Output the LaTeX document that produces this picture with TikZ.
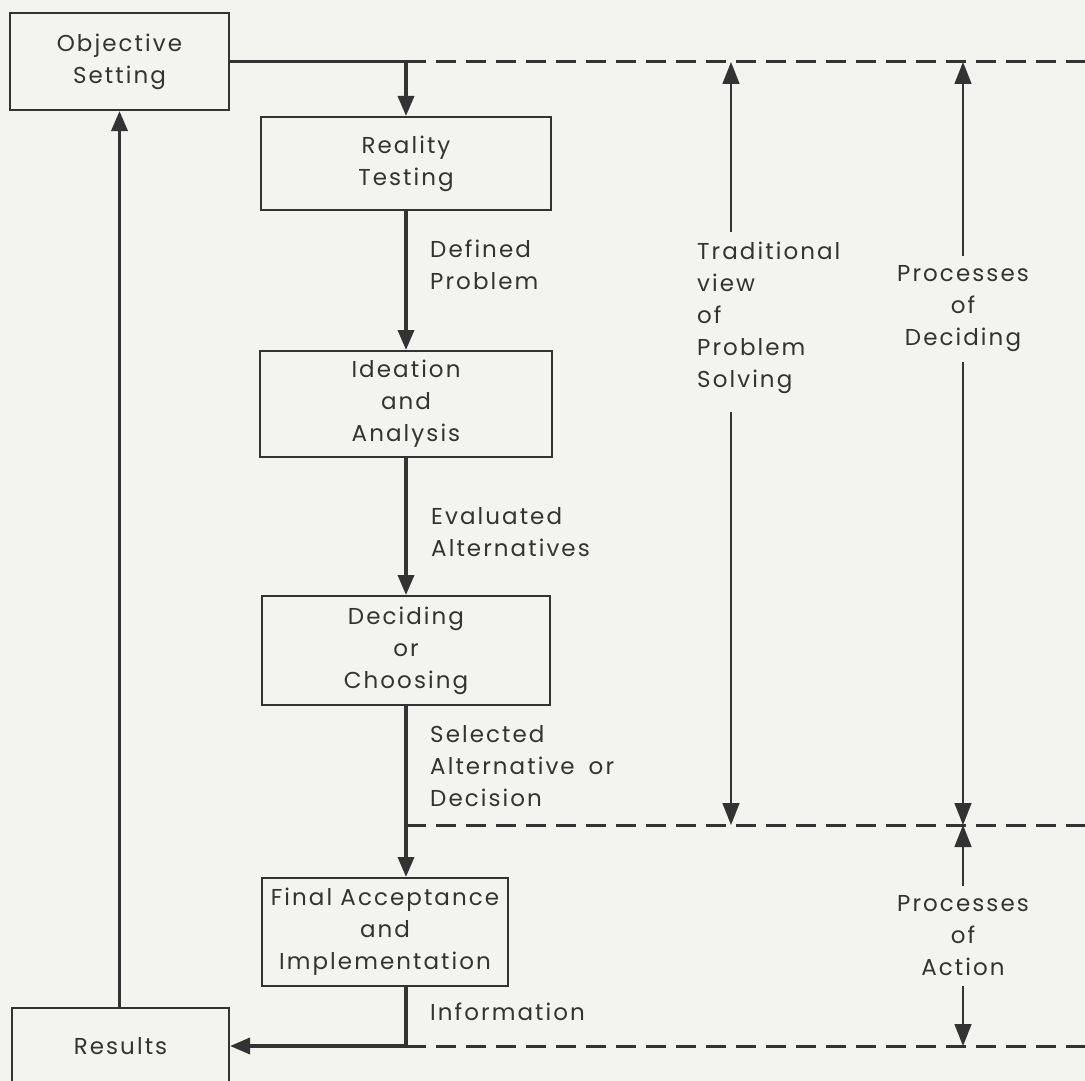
\documentclass[tikz,border=0pt]{standalone}
\usepackage{fontspec}
\setmainfont[LetterSpace=9]{Poppins}
\usetikzlibrary{arrows.meta}
\definecolor{ink}{HTML}{333333}
\definecolor{paper}{HTML}{F3F3EF}

\begin{document}
\begin{tikzpicture}[x=1pt,y=-1pt,
    box/.style={draw=ink,line width=2pt,align=center,text=ink,inner sep=0pt},
    lbl/.style={align=left,text=ink,inner sep=0pt,anchor=west},
    dimtxt/.style={align=center,text=ink,inner sep=10pt},
    flow/.style={ink,line width=3.5pt,-{Triangle[length=20pt,width=16pt]}},
    dimline/.style={ink,line width=1.5pt,-{Triangle[length=22pt,width=17pt]}},
    dashline/.style={ink,line width=3pt,dash pattern=on 20pt off 10pt},
    font=\fontsize{23}{32}\selectfont]
            \useasboundingbox[fill=paper] (0,0) rectangle (1085,1081);
            % blocks
            \node[box,minimum width=219pt,minimum height=97pt] (obj) at (119.5,61.5) {Objective\\Setting};
            \node[box,minimum width=290pt,minimum height=93pt] (real) at (406,163.5) {Reality\\Testing};
            \node[box,minimum width=292pt,minimum height=106pt] (idea) at (406,404) {Ideation\\and\\Analysis};
            \node[box,minimum width=288pt,minimum height=109pt] (decide) at (406,650.5) {Deciding\\or\\Choosing};
            \node[box,minimum width=246pt,minimum height=108pt] (final) at (385,932) {Final Acceptance\\and\\Implementation};
            \node[box,minimum width=217pt,minimum height=76pt] (results) at (120.5,1046) {Results};
            % labels on the flow
            \node[lbl] (defp) at (430,265) {Defined\\Problem};
            \node[lbl] (evalt) at (431,532) {Evaluated\\Alternatives};
            \node[lbl] (selalt) at (430,766) {Selected\\Alternative\hspace{14pt}or\\Decision};
            \node[lbl] (info) at (430,1012) {Information};
            % main flow
            \draw[flow] (obj.east) -| (real.north);
            \draw[flow] (real) -- (idea);
            \draw[flow] (idea) -- (decide);
            \draw[flow] (decide.south) -- (decide.south |- final.north);
            \draw[flow] (decide.south |- final.south) |- (results.east);
            \draw[flow] (results.north -| obj) -- (obj.south);
            % phase boundaries
            \coordinate (edgeA) at (1085,62);
            \coordinate (edgeB) at (1085,825);
            \coordinate (edgeC) at (1085,1046);
            \draw[dashline] (real.north |- edgeA) -- (edgeA);
            \draw[dashline] (decide.south |- edgeB) -- (edgeB);
            \draw[dashline] (decide.south |- edgeC) -- (edgeC);
            % spans
            \node[lbl,inner sep=0pt] (trad) at (697,318) {Traditional\\view\\of\\Problem\\Solving};
            \coordinate (tradx) at (731,0);
            \draw[dimline] ([yshift=10pt]trad.north -| tradx) -- (tradx |- edgeA);
            \draw[dimline] ([yshift=-18pt]trad.south -| tradx) -- (tradx |- edgeB);
            \node[dimtxt] (pdec) at (963,309) {Processes\\of\\Deciding};
            \draw[dimline] (pdec.north) -- (pdec |- edgeA);
            \draw[dimline] (pdec.south) -- (pdec |- edgeB);
            \node[dimtxt] (pact) at (963,936) {Processes\\of\\Action};
            \draw[dimline] (pact.north) -- (pact |- edgeB);
            \draw[dimline] (pact.south) -- (pact |- edgeC);
        \end{tikzpicture}
\end{document}
